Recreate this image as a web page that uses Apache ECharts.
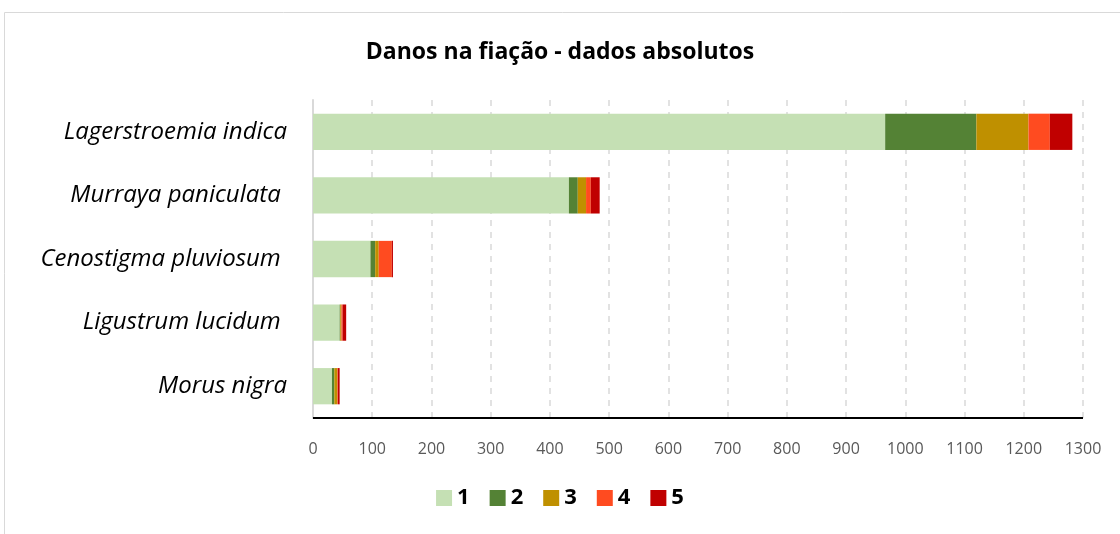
<!DOCTYPE html>
<html>
<head>
<meta charset="utf-8">
<script src="https://cdn.jsdelivr.net/npm/echarts@6/dist/echarts.min.js"></script>
<style>
  html, body { margin: 0; padding: 0; background: #fff; }
  #chart { width: 1120px; height: 534px; }
</style>
</head>
<body>
<div id="chart"></div>
<script>
// espécies (de cima para baixo)
const especies = [
  'Lagerstroemia indica',
  'Murraya paniculata ',
  'Cenostigma pluviosum ',
  'Ligustrum lucidum ',
  'Morus nigra'
];
// níveis de dano 1..5
const nivel1 = [966, 432, 97, 45, 32];
const nivel2 = [154, 15, 8, 1, 4];
const nivel3 = [88, 14, 6, 2, 5];
const nivel4 = [36, 8, 22, 2, 1];
const nivel5 = [38, 15, 2, 6, 3];

const cores = ['#c5e0b4', '#548235', '#bf9000', '#ff4b20', '#c00000'];
const niveis = [nivel1, nivel2, nivel3, nivel4, nivel5];

const chart = echarts.init(document.getElementById('chart'));

const option = {
  animation: false,
  title: {
    text: 'Danos na fiação - dados absolutos',
    left: 'center',
    top: 36,
    textStyle: { fontFamily: 'Open Sans', fontSize: 23, fontWeight: 'bold', color: '#000' }
  },
  graphic: [{
    type: 'rect',
    shape: { x: 4.5, y: 12.5, width: 1300, height: 700 },
    style: { fill: 'none', stroke: '#d9d9d9', lineWidth: 1 },
    silent: true
  }],
  legend: {
    bottom: 20,
    left: 'center',
    itemWidth: 16,
    itemHeight: 16,
    itemGap: 20,
    icon: 'rect',
    textStyle: { fontFamily: 'Open Sans', fontSize: 22, fontWeight: 'bold', color: '#000' }
  },
  grid: { left: 313, right: 37, top: 100, bottom: 116 },
  xAxis: {
    type: 'value',
    min: 0,
    max: 1300,
    interval: 100,
    axisLine: { show: false },
    axisTick: { show: false },
    splitLine: { show: true, lineStyle: { color: '#d9d9d9', width: 1.5, type: [6, 6] } },
    axisLabel: { fontFamily: 'Open Sans', fontSize: 16, color: '#595959', margin: 23, formatter: v => String(v) }
  },
  yAxis: {
    type: 'category',
    data: especies,
    inverse: true,
    axisLine: { show: true, lineStyle: { color: '#d9d9d9', width: 2 } },
    axisTick: { show: false },
    axisLabel: { fontFamily: 'Open Sans', fontStyle: 'italic', fontSize: 24, color: '#000', margin: 26 }
  },
  series: niveis.map((dados, i) => ({
    name: String(i + 1),
    type: 'bar',
    stack: 'total',
    data: dados,
    barCategoryGap: '43%',
    itemStyle: { color: cores[i] }
  })).concat([{
    // linha inferior preta do eixo
    type: 'line',
    data: [],
    markLine: {
      silent: true,
      symbol: 'none',
      label: { show: false },
      lineStyle: { color: '#000', width: 2, type: 'solid' },
      data: [[{ coord: [0, 4], y: 418 }, { coord: [1300, 4], y: 418 }]]
    }
  }])
};

chart.setOption(option);
</script>
</body>
</html>
